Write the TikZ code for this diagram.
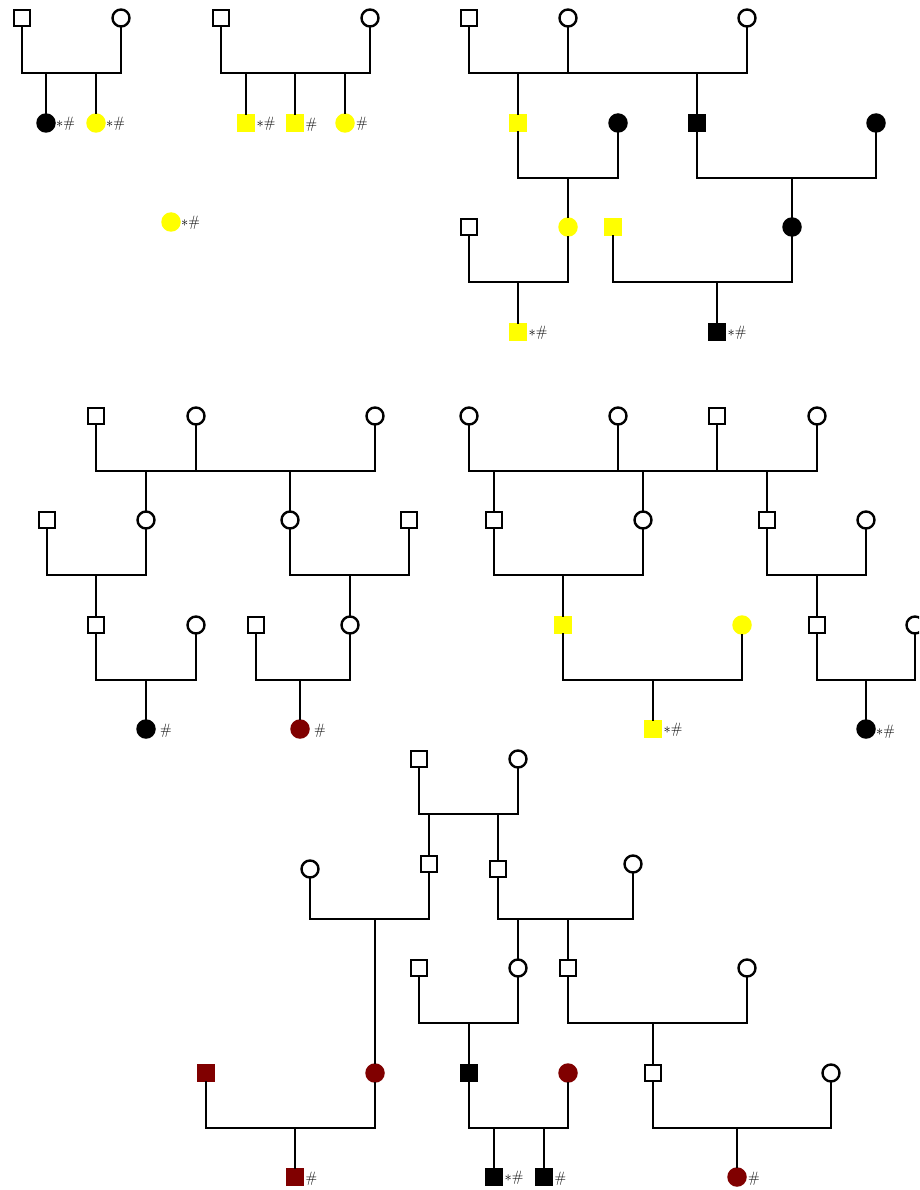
\documentclass[tikz,border=0pt]{standalone}
\usepackage{xcolor}
\definecolor{dred}{HTML}{800000}
\definecolor{yel}{HTML}{FFFF00}
\begin{document}
\begin{tikzpicture}[x=1pt,y=-1pt,
  ln/.style={line width=2.5pt, line cap=rect},
  m/.style={rectangle, draw=black, line width=2.4pt, fill=white, minimum size=16pt, inner sep=0pt},
  f/.style={circle, draw=black, line width=2.4pt, fill=white, minimum size=17pt, inner sep=0pt},
  mf/.style={rectangle, draw=none, fill=#1, minimum size=18.5pt, inner sep=0pt},
  ff/.style={circle, draw=none, fill=#1, minimum size=19.5pt, inner sep=0pt},
  lab/.style={anchor=west, inner sep=0pt, font=\fontsize{15}{15}\selectfont}
]
\clip (0,0) rectangle (919,1190);
\fill[white] (0,0) rectangle (919,1190);

% ---------- Family 1 ----------
\node[m] (a1) at (22,18) {};
\node[f] (a2) at (121,18) {};
\coordinate (am) at (71,73);
\node[ff=black] (a3) at (46,123) {};
\node[ff=yel] (a4) at (96,123) {};
\draw[ln] (a1) |- (am) -| (a2);
\draw[ln] (a3 |- am) -- (a3);
\draw[ln] (a4 |- am) -- (a4);
\node[lab] (a3l) at ([xshift=0pt,yshift=-1pt]a3.east) {$\ast$\#};
\node[lab] (a4l) at ([xshift=0pt,yshift=-1pt]a4.east) {$\ast$\#};

% ---------- Family 2 ----------
\node[m] (b1) at (221,18) {};
\node[f] (b2) at (370,18) {};
\coordinate (bm) at (295,73);
\node[mf=yel] (b3) at (246,123) {};
\node[mf=yel] (b4) at (295,123) {};
\node[ff=yel] (b5) at (345,123) {};
\draw[ln] (b1) |- (bm) -| (b2);
\draw[ln] (b3 |- bm) -- (b3);
\draw[ln] (b4 |- bm) -- (b4);
\draw[ln] (b5 |- bm) -- (b5);
\node[lab] (b3l) at ([xshift=1pt,yshift=-1pt]b3.east) {$\ast$\#};
\node[lab] (b4l) at ([xshift=1pt,yshift=-2pt]b4.east) {\#};
\node[lab] (b5l) at ([xshift=1pt,yshift=-1pt]b5.east) {\#};

% isolated
\node[ff=yel] (s1) at (171,222) {};
\node[lab] (s1l) at ([xshift=0pt,yshift=-1pt]s1.east) {$\ast$\#};

% ---------- Family 3 ----------
\node[m] (c1) at (469,18) {};
\node[f] (c2) at (568,18) {};
\node[f] (c3) at (747,18) {};
\coordinate (cm) at (600,73);
\draw[ln] (c1) |- (cm) -| (c3);
\draw[ln] (c2) -- (c2 |- cm);
\node[mf=yel] (c4) at (518,123) {};
\node[ff=black] (c5) at (618,123) {};
\node[mf=black] (c6) at (697,123) {};
\node[ff=black] (c7) at (876,123) {};
\draw[ln] (c4 |- cm) -- (c4);
\draw[ln] (c6 |- cm) -- (c6);
\coordinate (cm2) at (568,178);
\coordinate (cm3) at (792,178);
\draw[ln] (c4) |- (cm2) -| (c5);
\draw[ln] (c6) |- (cm3) -| (c7);
\node[ff=yel] (c8) at (568,227) {};
\node[ff=black] (c9) at (792,227) {};
\draw[ln] (cm2) -- (c8);
\draw[ln] (cm3) -- (c9);
\node[m] (c10) at (469,227) {};
\node[mf=yel] (c11) at (613,227) {};
\coordinate (cm4) at (518,282);
\coordinate (cm5) at (717,282);
\draw[ln] (c10) |- (cm4) -| (c8);
\draw[ln] (c11) |- (cm5) -| (c9);
\node[mf=yel] (c12) at (518,332) {};
\node[mf=black] (c13) at (717,332) {};
\draw[ln] (cm4) -- (c12);
\draw[ln] (cm5) -- (c13);
\node[lab] (c12l) at ([xshift=1pt,yshift=-1pt]c12.east) {$\ast$\#};
\node[lab] (c13l) at ([xshift=1pt,yshift=-1pt]c13.east) {$\ast$\#};

% ---------- Family 4 (middle left) ----------
\node[m] (d1) at (96,416) {};
\node[f] (d2) at (196,416) {};
\node[f] (d3) at (375,416) {};
\coordinate (dm) at (230,471);
\draw[ln] (d1) |- (dm) -| (d3);
\draw[ln] (d2) -- (d2 |- dm);
\node[f] (d4) at (146,520) {};
\node[f] (d5) at (290,520) {};
\draw[ln] (d4 |- dm) -- (d4);
\draw[ln] (d5 |- dm) -- (d5);
\node[m] (d6) at (47,520) {};
\node[m] (d7) at (409,520) {};
\coordinate (dm2) at (96,575);
\coordinate (dm3) at (350,575);
\draw[ln] (d6) |- (dm2) -| (d4);
\draw[ln] (d5) |- (dm3) -| (d7);
\node[m] (d8) at (96,625) {};
\node[f] (d9) at (350,625) {};
\draw[ln] (dm2) -- (d8);
\draw[ln] (dm3) -- (d9);
\node[f] (d10) at (196,625) {};
\node[m] (d11) at (256,625) {};
\coordinate (dm4) at (146,680);
\coordinate (dm5) at (300,680);
\draw[ln] (d8) |- (dm4) -| (d10);
\draw[ln] (d11) |- (dm5) -| (d9);
\node[ff=black] (d12) at (146,729) {};
\node[ff=dred] (d13) at (300,729) {};
\draw[ln] (dm4) -- (d12);
\draw[ln] (dm5) -- (d13);
\node[lab] (d12l) at ([xshift=4pt,yshift=-2pt]d12.east) {\#};
\node[lab] (d13l) at ([xshift=4pt,yshift=-2pt]d13.east) {\#};

% ---------- Family 5 (middle right) ----------
\node[f] (e1) at (469,416) {};
\node[f] (e2) at (618,416) {};
\node[m] (e3) at (717,416) {};
\node[f] (e4) at (817,416) {};
\coordinate (em) at (640,471);
\draw[ln] (e1) |- (em) -| (e4);
\draw[ln] (e2) -- (e2 |- em);
\draw[ln] (e3) -- (e3 |- em);
\node[m] (e5) at (494,520) {};
\node[f] (e6) at (643,520) {};
\node[m] (e7) at (767,520) {};
\draw[ln] (e5 |- em) -- (e5);
\draw[ln] (e6 |- em) -- (e6);
\draw[ln] (e7 |- em) -- (e7);
\node[f] (e8) at (866,520) {};
\coordinate (em2) at (563,575);
\coordinate (em3) at (817,575);
\draw[ln] (e5) |- (em2) -| (e6);
\draw[ln] (e7) |- (em3) -| (e8);
\node[mf=yel] (e9) at (563,625) {};
\node[m] (e10) at (817,625) {};
\draw[ln] (em2) -- (e9);
\draw[ln] (em3) -- (e10);
\node[ff=yel] (e11) at (742,625) {};
\node[f] (e12) at (915,625) {};
\coordinate (em4) at (653,680);
\coordinate (em5) at (866,680);
\draw[ln] (e9) |- (em4) -| (e11);
\draw[ln] (e10) |- (em5) -| (e12);
\node[mf=yel] (e13) at (653,729) {};
\node[ff=black] (e14) at (866,729) {};
\draw[ln] (em4) -- (e13);
\draw[ln] (em5) -- (e14);
\node[lab] (e13l) at ([xshift=1pt,yshift=-1pt]e13.east) {$\ast$\#};
\node[lab] (e14l) at ([xshift=0pt,yshift=-3pt]e14.east) {$\ast$\#};

% ---------- Family 6 (bottom) ----------
\node[m] (g1) at (419,759) {};
\node[f] (g2) at (518,759) {};
\coordinate (gm) at (470,814);
\draw[ln] (g1) |- (gm) -| (g2);
\node[m] (g3) at (429,864) {};
\node[m] (g4) at (498,869) {};
\draw[ln] (g3 |- gm) -- (g3);
\draw[ln] (g4 |- gm) -- (g4);
\node[f] (g5) at (310,869) {};
\node[f] (g6) at (633,864) {};
\coordinate (gm2) at (375,919);
\coordinate (gm3) at (560,919);
\draw[ln] (g5) |- (gm2) -| (g3);
\draw[ln] (g4) |- (gm3) -| (g6);
\node[ff=dred] (g7) at (375,1073) {};
\draw[ln] (gm2) -- (g7);
\node[f] (g8) at (518,968) {};
\node[m] (g9) at (568,968) {};
\draw[ln] (g8 |- gm3) -- (g8);
\draw[ln] (g9 |- gm3) -- (g9);
\node[m] (g10) at (419,968) {};
\node[f] (g11) at (747,968) {};
\coordinate (gm4) at (469,1023);
\coordinate (gm5) at (653,1023);
\draw[ln] (g10) |- (gm4) -| (g8);
\draw[ln] (g9) |- (gm5) -| (g11);
\node[mf=black] (g12) at (469,1073) {};
\node[m] (g13) at (653,1073) {};
\draw[ln] (gm4) -- (g12);
\draw[ln] (gm5) -- (g13);
\node[mf=dred] (g14) at (206,1073) {};
\node[ff=dred] (g15) at (568,1073) {};
\node[f] (g16) at (831,1073) {};
\coordinate (gm6) at (295,1128);
\coordinate (gm7) at (520,1128);
\coordinate (gm8) at (737,1128);
\draw[ln] (g14) |- (gm6) -| (g7);
\draw[ln] (g12) |- (gm7) -| (g15);
\draw[ln] (g13) |- (gm8) -| (g16);
\node[mf=dred] (g17) at (295,1177) {};
\node[mf=black] (g18) at (494,1177) {};
\node[mf=black] (g19) at (544,1177) {};
\node[ff=dred] (g20) at (737,1177) {};
\draw[ln] (gm6) -- (g17);
\draw[ln] (g18 |- gm7) -- (g18);
\draw[ln] (g19 |- gm7) -- (g19);
\draw[ln] (gm8) -- (g20);
\node[lab] (g17l) at ([xshift=1pt,yshift=-2pt]g17.east) {\#};
\node[lab] (g18l) at ([xshift=1pt,yshift=-1pt]g18.east) {$\ast$\#};
\node[lab] (g19l) at ([xshift=1pt,yshift=-2pt]g19.east) {\#};
\node[lab] (g20l) at ([xshift=1pt,yshift=-2pt]g20.east) {\#};
\end{tikzpicture}
\end{document}
